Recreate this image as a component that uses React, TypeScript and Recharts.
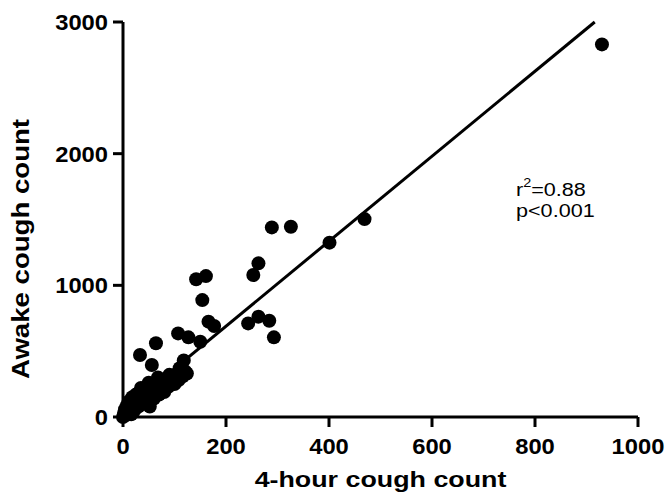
import { ScatterChart, Scatter, XAxis, YAxis } from "recharts"

// 4-hour count vs awake count
const fourHour = [
  930, 469, 401, 326, 289, 263, 253, 161, 142, 154, 166, 177, 243, 263, 284, 293,
  107, 127, 150, 64, 33, 56, 118,
  0, 2, 4, 6, 8, 10, 12, 14, 16, 18, 20, 22, 25, 28, 30, 33, 36, 40, 42, 45, 48, 52,
  54, 57, 60, 63, 66, 70, 73, 76, 80, 84, 88, 92, 96, 100, 104, 108, 112, 116, 121, 124,
  35, 50, 68, 90, 110,
]
const awake = [
  2830, 1503, 1324, 1445, 1440, 1167, 1078, 1070, 1046, 888, 724, 691, 711, 762, 731, 605,
  635, 605, 572, 560, 471, 395, 430,
  0, 30, 60, 15, 90, 45, 120, 70, 20, 150, 100, 50, 170, 120, 80, 190, 140, 100, 210, 160, 120, 80,
  230, 180, 140, 250, 200, 170, 270, 220, 190, 280, 230, 260, 290, 250, 310, 280, 330, 310, 345, 330,
  220, 260, 300, 320, 370,
]

// regression line end points
const fitX = [0, 916]
const fitY = [44, 3000]

const xTicks = [0, 200, 400, 600, 800, 1000]
const yTicks = [0, 1000, 2000, 3000]

const points = fourHour.map((x, i) => ({ x, y: awake[i] }))
const fit = fitX.map((x, i) => ({ x, y: fitY[i] }))

const font = "'Liberation Sans', Arial, Helvetica, sans-serif"

const Dot = (p: any) => <circle cx={p.cx} cy={p.cy} r={7} fill="#000" />

const XTick = ({ x, y, payload }: any) => (
  <g transform={`translate(${x},${y})`}>
    <text transform="scale(1.08,1)" textAnchor="middle" dy="0.72em"
      fontFamily={font} fontWeight="bold" fontSize={22} fill="#000">
      {payload.value}
    </text>
  </g>
)

const YTick = ({ x, y, payload }: any) => (
  <g transform={`translate(${x},${y})`}>
    <text transform="scale(1.08,1)" textAnchor="end" dy="0.36em"
      fontFamily={font} fontWeight="bold" fontSize={22} fill="#000">
      {payload.value}
    </text>
  </g>
)

export default function App() {
  return (
    <div style={{ position: "absolute", left: 0, top: 0, width: 669, height: 493, background: "#fff" }}>
      <ScatterChart width={669} height={493} margin={{ top: 22, right: 31, bottom: 0, left: 10 }}>
        <XAxis
          type="number"
          dataKey="x"
          domain={[0, 1000]}
          ticks={xTicks}
          height={76}
          tickSize={10}
          tickMargin={11}
          axisLine={{ stroke: "#000", strokeWidth: 3 }}
          tickLine={{ stroke: "#000", strokeWidth: 3 }}
          tick={<XTick />}
        />
        <YAxis
          type="number"
          dataKey="y"
          domain={[0, 3000]}
          ticks={yTicks}
          width={113}
          tickSize={10}
          tickMargin={5}
          axisLine={{ stroke: "#000", strokeWidth: 3 }}
          tickLine={{ stroke: "#000", strokeWidth: 3 }}
          tick={<YTick />}
        />
        <Scatter
          data={fit}
          line={{ stroke: "#000", strokeWidth: 3 }}
          shape={() => <g />}
          isAnimationActive={false}
        />
        <Scatter data={points} shape={Dot} isAnimationActive={false} />
      </ScatterChart>
      <svg width={669} height={493} style={{ position: "absolute", left: 0, top: 0, pointerEvents: "none" }}>
        <g transform="translate(380.5,487) scale(1.22,1)">
          <text textAnchor="middle" fontFamily={font} fontWeight="bold" fontSize={22} fill="#000">
            4-hour cough count
          </text>
        </g>
        <g transform="translate(28.5,249) rotate(-90) scale(1.2,1)">
          <text textAnchor="middle" fontFamily={font} fontWeight="bold" fontSize={23} fill="#000">
            Awake cough count
          </text>
        </g>
        <g transform="translate(516,196) scale(1.2,1)" fontFamily={font} fontSize={18} fill="#000">
          <text>
            r<tspan fontSize={12} dy={-9}>2</tspan>
            <tspan dy={9}>=0.88</tspan>
          </text>
        </g>
        <g transform="translate(516,217) scale(1.2,1)" fontFamily={font} fontSize={18} fill="#000">
          <text>p&lt;0.001</text>
        </g>
      </svg>
    </div>
  )
}
